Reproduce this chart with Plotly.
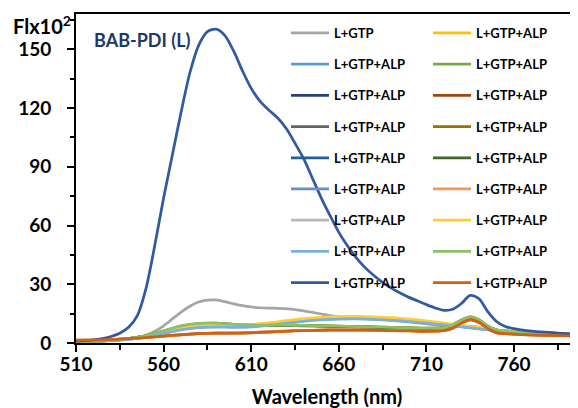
import plotly.graph_objects as go

# ---------------- data ----------------
wl5 = list(range(510, 801, 5))
wl = [510, 520, 530, 540, 550, 560, 570, 580, 590, 600, 610, 620, 630, 640, 650, 660,
      670, 680, 690, 700, 710, 720, 725, 730, 735, 740, 745, 750, 760, 770, 780, 790, 800]

s_gtp = [0.8, 0.9, 1.0, 1.2, 1.4, 1.7, 2.1, 2.8, 4.0, 6.0, 8.8, 12.3, 15.8, 18.8, 20.9, 21.9,
         22.0, 21.1, 20.0, 19.1, 18.4, 18.0, 17.8, 17.7, 17.5, 17.0, 16.4, 15.6, 14.8, 14.0,
         13.4, 12.9, 12.6, 12.4, 12.2, 11.9, 11.6, 11.2, 10.8, 10.3, 9.8, 9.2, 8.7, 8.4, 8.4,
         8.6, 8.0, 6.8, 5.9, 5.5, 5.2, 5.0, 4.8, 4.6, 4.5, 4.4, 4.3, 4.2, 4.1]
s_big = [1.0, 1.2, 1.6, 2.3, 3.3, 5.0, 8.0, 14.0, 28.0, 50.0, 74.0, 96.0, 118.0, 138.0, 152.0,
         159.0, 160.3, 157.0, 149.0, 139.0, 130.0, 123.5, 119.0, 115.0, 109.5, 102.0, 94.0,
         84.0, 74.0, 65.0, 56.5, 49.5, 43.5, 38.5, 34.5, 31.0, 28.0, 25.5, 23.3, 21.5, 19.6,
         17.9, 16.7, 17.2, 20.2, 24.3, 22.6, 16.0, 11.0, 8.4, 7.3, 6.6, 6.1, 5.7, 5.4, 5.1,
         4.8, 4.5, 4.2]

s_ffc000 = [1.0, 1.1, 1.4, 2.1, 3.4, 5.6, 7.9, 9.3, 9.6, 9.2, 9.3, 10.0, 11.0, 12.0, 12.7, 13.1,
            13.2, 13.0, 12.5, 11.8, 10.9, 9.9, 9.3, 8.7, 8.2, 7.6, 7.0, 6.5, 5.9, 5.4, 5.1, 4.8, 4.6]
s_5b9bd5 = [1.0, 1.1, 1.4, 2.0, 3.1, 5.0, 7.0, 8.2, 8.4, 8.2, 8.4, 9.2, 10.3, 11.3, 12.0, 12.4,
            12.5, 12.3, 11.8, 11.1, 10.3, 9.4, 8.9, 8.4, 7.9, 7.4, 6.9, 6.4, 5.8, 5.3, 5.0, 4.7, 4.5]
s_70ad47 = [1.0, 1.1, 1.4, 2.2, 3.6, 6.0, 8.5, 9.8, 10.0, 9.4, 9.1, 9.0, 9.0, 8.9, 8.7, 8.5,
            8.3, 8.1, 7.9, 7.7, 7.5, 7.8, 9.2, 11.6, 13.2, 11.7, 8.6, 6.6, 5.5, 5.0, 4.6, 4.3, 4.1]
s_264478 = [1.0, 1.1, 1.4, 2.1, 3.3, 5.4, 7.6, 9.0, 9.4, 9.1, 9.2, 9.9, 10.9, 11.8, 12.4, 12.7,
            12.8, 12.6, 12.1, 11.4, 10.6, 9.6, 9.1, 8.6, 8.1, 7.5, 7.0, 6.4, 5.8, 5.3, 5.0, 4.7, 4.5]
s_9e480e = [1.4, 1.5, 1.7, 2.2, 2.9, 3.6, 4.3, 4.9, 5.1, 5.1, 5.3, 5.7, 6.1, 6.4, 6.6, 6.7,
            6.7, 6.6, 6.4, 6.3, 6.1, 6.4, 7.7, 10.1, 11.8, 10.4, 7.3, 5.3, 4.5, 4.1, 3.9, 3.7, 3.6]
s_636363 = [1.0, 1.1, 1.4, 2.2, 3.5, 5.7, 8.0, 9.5, 9.8, 9.4, 9.3, 9.8, 10.7, 11.6, 12.2, 12.5,
            12.6, 12.4, 11.9, 11.2, 10.4, 9.5, 9.0, 8.5, 8.0, 7.5, 6.9, 6.4, 5.8, 5.3, 5.0, 4.7, 4.5]
s_997300 = [1.0, 1.1, 1.4, 2.2, 3.6, 6.1, 8.6, 9.9, 10.1, 9.5, 9.2, 9.1, 9.1, 9.0, 8.8, 8.6,
            8.4, 8.2, 8.0, 7.8, 7.6, 7.9, 9.3, 11.8, 13.4, 11.9, 8.7, 6.7, 5.6, 5.0, 4.6, 4.3, 4.1]
s_255e91 = [1.0, 1.1, 1.4, 2.1, 3.3, 5.3, 7.5, 8.9, 9.2, 8.9, 9.0, 9.7, 10.7, 11.6, 12.3, 12.6,
            12.7, 12.5, 12.0, 11.3, 10.5, 9.5, 9.0, 8.5, 8.0, 7.5, 6.9, 6.4, 5.8, 5.3, 5.0, 4.7, 4.5]
s_43682b = [1.0, 1.1, 1.4, 2.2, 3.6, 6.0, 8.4, 9.7, 9.9, 9.3, 9.0, 8.9, 8.9, 8.8, 8.6, 8.4,
            8.2, 8.0, 7.8, 7.6, 7.4, 7.7, 9.1, 11.5, 13.1, 11.6, 8.5, 6.6, 5.5, 5.0, 4.6, 4.3, 4.1]
s_698ed0 = [1.0, 1.1, 1.4, 2.0, 3.2, 5.2, 7.3, 8.6, 8.9, 8.6, 8.8, 9.5, 10.6, 11.5, 12.2, 12.6,
            12.7, 12.5, 12.0, 11.3, 10.5, 9.5, 9.0, 8.5, 8.0, 7.5, 6.9, 6.4, 5.8, 5.3, 5.0, 4.7, 4.5]
s_f1975a = [1.5, 1.5, 1.7, 2.2, 2.8, 3.5, 4.2, 4.8, 5.0, 5.1, 5.3, 5.7, 6.1, 6.4, 6.6, 6.7,
            6.7, 6.6, 6.4, 6.3, 6.1, 6.4, 7.7, 10.2, 12.0, 10.6, 7.4, 5.3, 4.5, 4.1, 3.9, 3.7, 3.6]
s_b7b7b7 = [1.0, 1.1, 1.4, 2.1, 3.4, 5.5, 7.7, 9.1, 9.4, 9.1, 9.2, 9.9, 10.9, 11.9, 12.6, 13.0,
            13.1, 12.9, 12.4, 11.7, 10.8, 9.8, 9.2, 8.6, 8.1, 7.5, 7.0, 6.5, 5.9, 5.4, 5.1, 4.8, 4.6]
s_ffcd33 = [1.0, 1.1, 1.4, 2.1, 3.4, 5.5, 7.8, 9.2, 9.6, 9.3, 9.5, 10.3, 11.4, 12.4, 13.1, 13.5,
            13.6, 13.4, 12.9, 12.2, 11.3, 10.2, 9.6, 9.0, 8.4, 7.8, 7.2, 6.6, 6.0, 5.5, 5.1, 4.8, 4.6]
s_7cafdd = [1.0, 1.1, 1.3, 1.9, 3.0, 4.8, 6.7, 7.8, 8.1, 8.0, 8.2, 9.0, 10.1, 11.1, 11.8, 12.2,
            12.3, 12.1, 11.6, 10.9, 10.1, 9.2, 8.7, 8.2, 7.7, 7.2, 6.7, 6.2, 5.6, 5.2, 4.9, 4.6, 4.4]
s_8cc168 = [1.0, 1.1, 1.4, 2.2, 3.7, 6.2, 8.7, 10.0, 10.1, 9.5, 9.2, 9.1, 9.1, 9.0, 8.8, 8.6,
            8.4, 8.2, 8.0, 7.8, 7.6, 7.9, 9.3, 11.8, 13.4, 11.9, 8.7, 6.7, 5.6, 5.0, 4.6, 4.3, 4.1]
s_d26012 = [1.5, 1.5, 1.7, 2.2, 2.8, 3.5, 4.2, 4.8, 5.0, 5.0, 5.2, 5.6, 6.0, 6.3, 6.5, 6.6,
            6.6, 6.5, 6.3, 6.2, 6.0, 6.3, 7.6, 10.2, 12.0, 10.6, 7.4, 5.3, 4.5, 4.1, 3.9, 3.7, 3.6]

names = ["L+GTP"] + ["L+GTP+ALP"] * 17
colors = ["#A5A5A5", "#FFC000", "#5B9BD5", "#70AD47", "#264478", "#9E480E",
          "#636363", "#997300", "#255E91", "#43682B", "#698ED0", "#F1975A",
          "#B7B7B7", "#FFCD33", "#7CAFDD", "#8CC168", "#335AA1", "#D26012"]
series = [s_gtp, s_ffc000, s_5b9bd5, s_70ad47, s_264478, s_9e480e,
          s_636363, s_997300, s_255e91, s_43682b, s_698ed0, s_f1975a,
          s_b7b7b7, s_ffcd33, s_7cafdd, s_8cc168, s_big, s_d26012]

y_ticks = [0, 30, 60, 90, 120, 150]
x_ticks = [510, 560, 610, 660, 710, 760]

FONT = "Lato, Carlito, Calibri, sans-serif"

fig = go.Figure()
for i, (nm, col, ys) in enumerate(zip(names, colors, series)):
    xs = wl5 if len(ys) == len(wl5) else wl
    fig.add_trace(go.Scatter(
        x=xs, y=ys, name=nm, mode="lines",
        line=dict(color=col, width=2.75, shape="spline", smoothing=0.8),
        legend="legend" if i % 2 == 0 else "legend2",
        legendgroup="g%02d" % i,
    ))

# plot area in page pixels: left 76, right 578, top 14, bottom 343
# (page body has an 8px margin, so the figure itself starts at 8,8)
PW, PH = 502, 329

leg_common = dict(
    orientation="v", bgcolor="rgba(0,0,0,0)", borderwidth=0,
    font=dict(family=FONT, size=13, color="black", weight="bold"),
    itemwidth=38, tracegroupgap=11.3, traceorder="grouped",
    xanchor="left", yanchor="top", y=1 - 4 / PH,
)

fig.update_layout(
    width=570, height=400,
    margin=dict(l=68, r=0, t=6, b=65, autoexpand=False),
    paper_bgcolor="white", plot_bgcolor="white",
    font=dict(family=FONT, color="black"),
    showlegend=True,
    legend=dict(x=(286 - 76) / PW, **leg_common),
    legend2=dict(x=(428 - 76) / PW, **leg_common),
    xaxis=dict(
        range=[510, 796.5], tickvals=x_ticks, ticktext=[str(v) for v in x_ticks],
        showline=True, linecolor="black", linewidth=2, mirror=True,
        ticks="outside", ticklen=7, tickwidth=2, tickcolor="black",
        minor=dict(dtick=25, tick0=510, ticks="outside", ticklen=5, tickwidth=2, tickcolor="black"),
        showgrid=False, zeroline=False, automargin=False, ticklabelstandoff=-4,
        tickfont=dict(family=FONT, size=19, color="black", weight="bold"),
        title=dict(text="Wavelength (nm)", standoff=16,
                   font=dict(family=FONT, size=20, color="black", weight="bold")),
    ),
    yaxis=dict(
        range=[0, 168], tickvals=y_ticks, ticktext=[str(v) for v in y_ticks],
        showline=True, linecolor="black", linewidth=2,
        ticks="outside", ticklen=7, tickwidth=2, tickcolor="black",
        minor=dict(dtick=15, tick0=0, ticks="outside", ticklen=4, tickwidth=2, tickcolor="black"),
        showgrid=False, zeroline=False, ticklabelstandoff=12, automargin=False,
        tickfont=dict(family=FONT, size=19, color="black", weight="bold"),
    ),
    annotations=[
        dict(text="Flx10<sup>2</sup>", xref="paper", yref="paper",
             x=(73 - 76) / PW, y=(343 - 25) / PH, xanchor="right", yanchor="middle",
             showarrow=False, font=dict(family=FONT, size=20, color="black", weight="bold")),
        dict(text="BAB-PDI (L)", xref="paper", yref="paper",
             x=(92 - 76) / PW, y=(343 - 40) / PH, xanchor="left", yanchor="middle",
             showarrow=False, font=dict(family=FONT, size=18, color="#203864", weight="bold")),
    ],
)

fig.write_html("out.html")
